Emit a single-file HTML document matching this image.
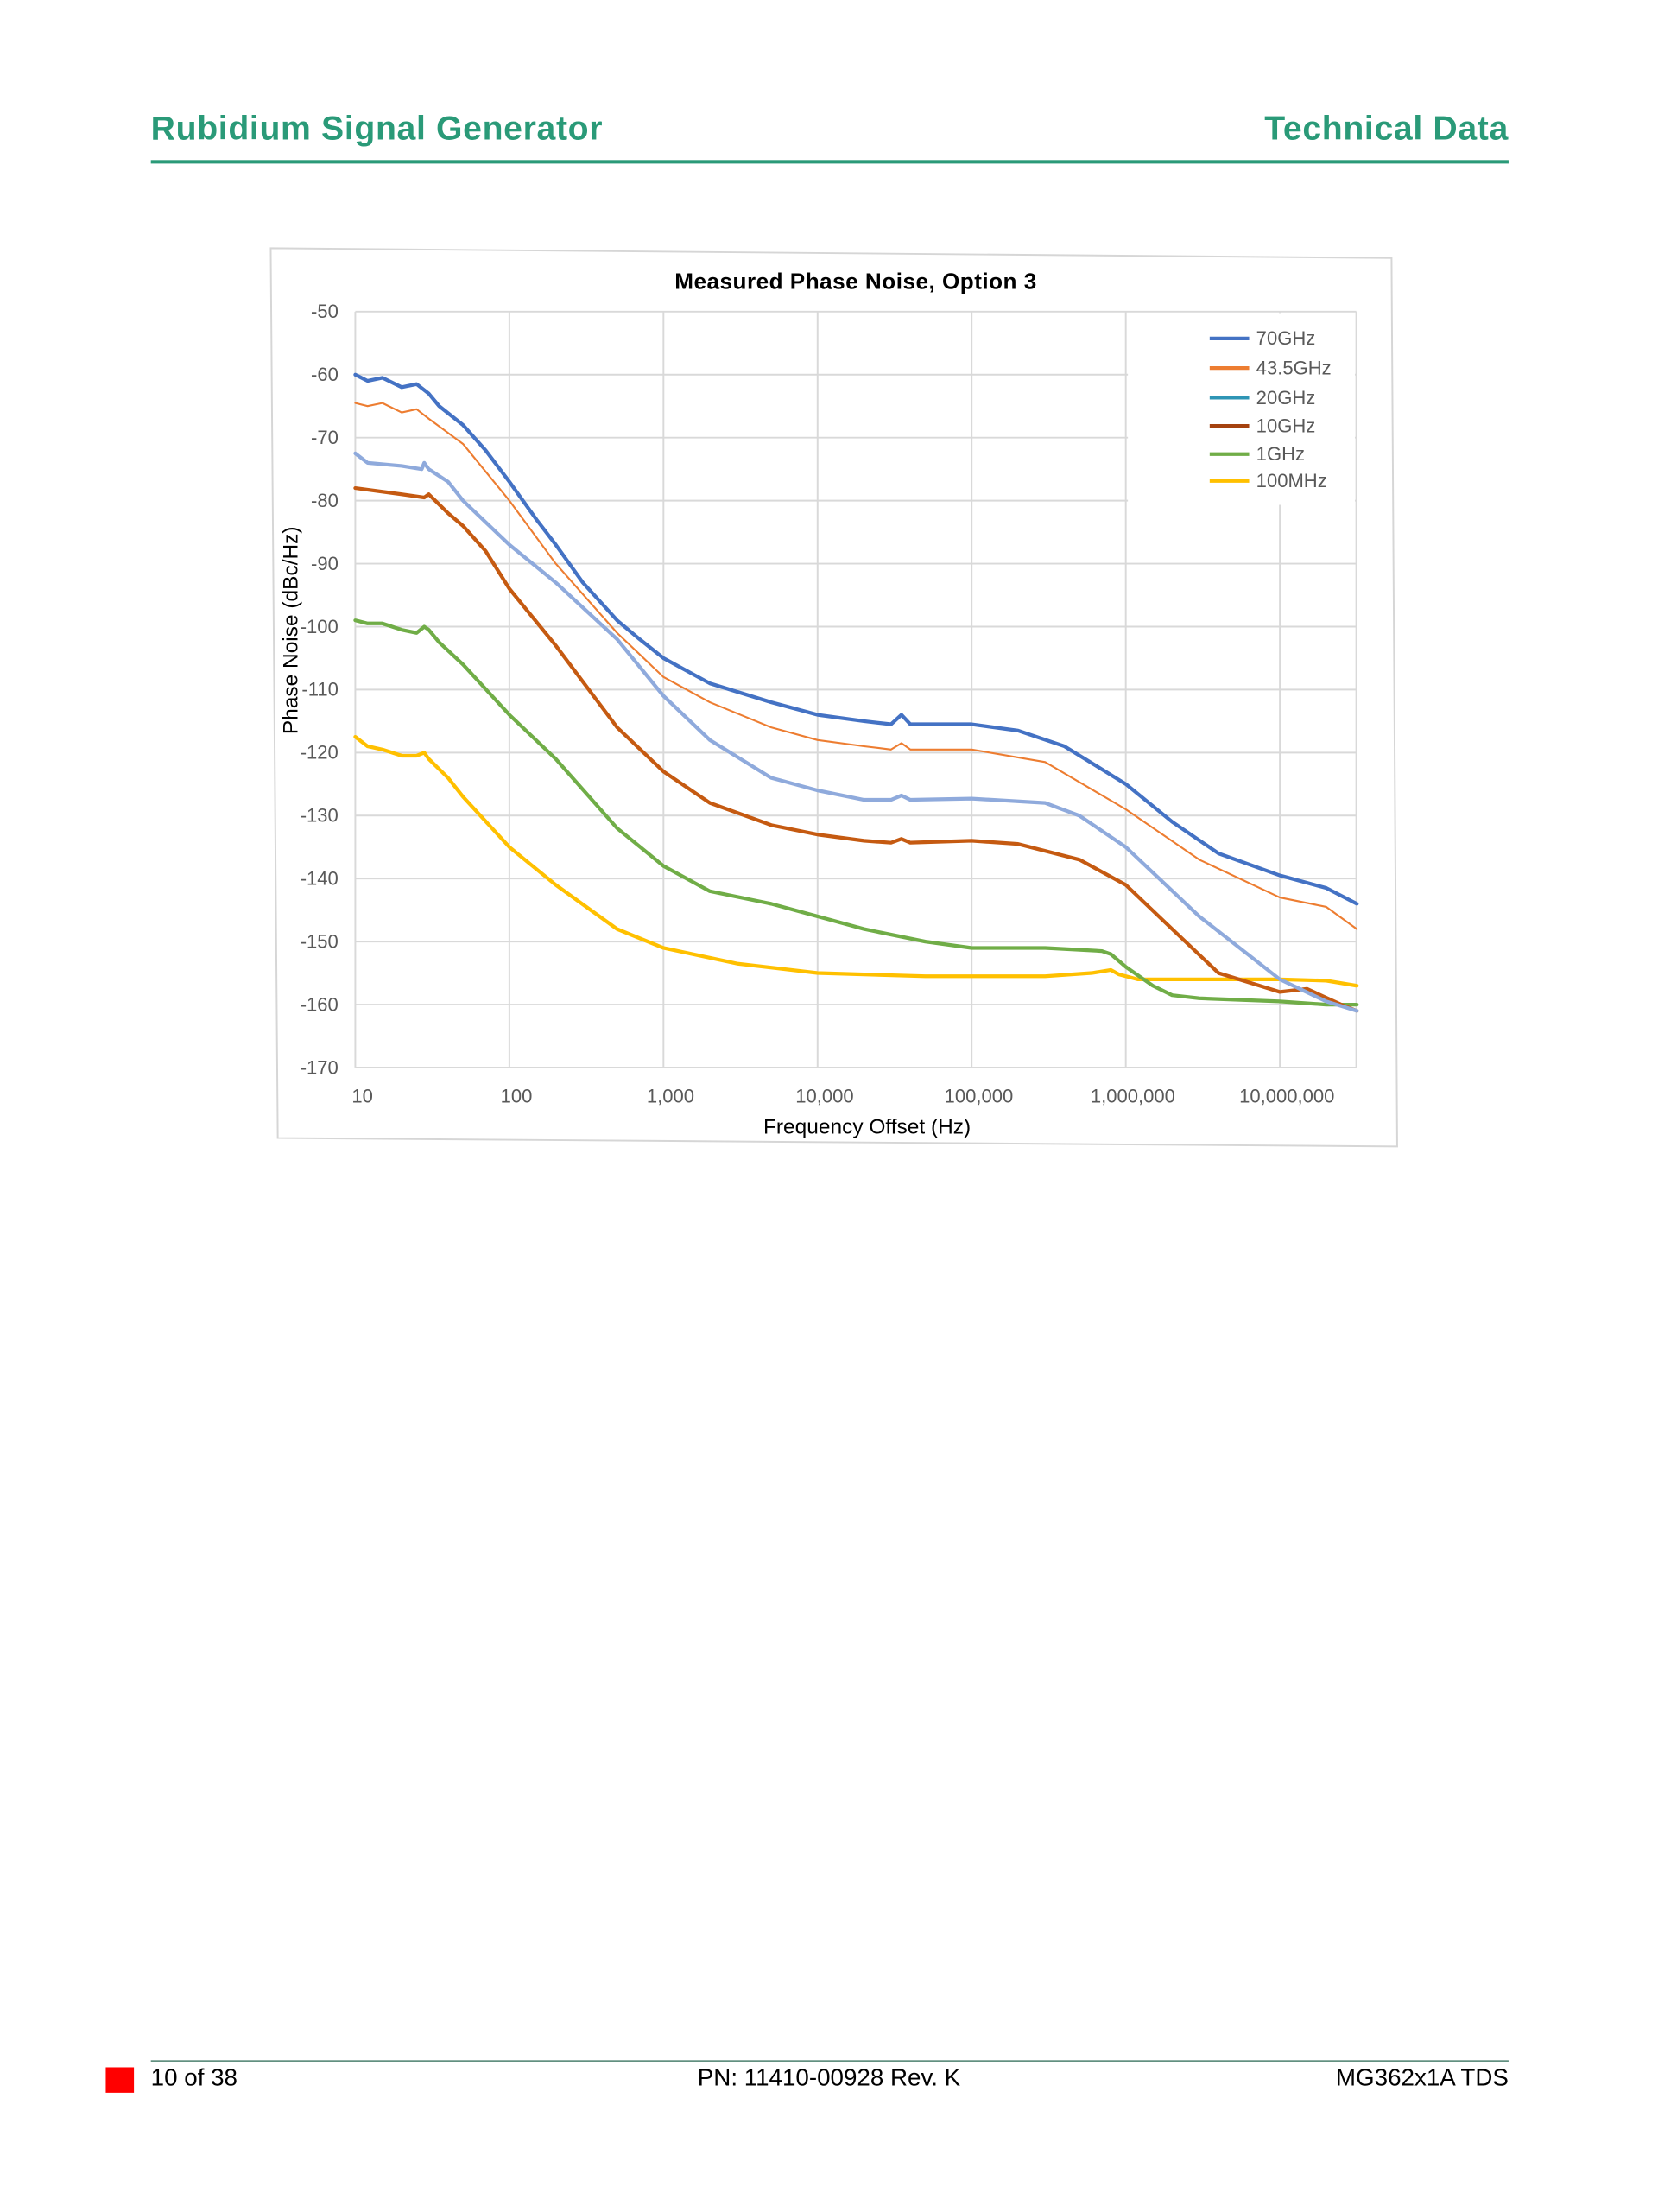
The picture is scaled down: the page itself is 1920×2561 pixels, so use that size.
<!DOCTYPE html>
<html><head><meta charset="utf-8"><style>
html,body{margin:0;padding:0;background:#fff;}
svg{display:block;}
text{font-family:"Liberation Sans",sans-serif;}
</style></head><body>
<svg id="s" width="1920" height="2561" viewBox="0 0 1176 1568.6" xmlns="http://www.w3.org/2000/svg">
<rect width="1176" height="1568.6" fill="#fff"/>
<text x="107" y="99" font-size="24" font-weight="bold" fill="#2a9a78" letter-spacing="0.4">Rubidium Signal Generator</text>
<text x="1070" y="99" font-size="24" font-weight="bold" fill="#2a9a78" text-anchor="end" letter-spacing="0.4">Technical Data</text>
<rect x="107" y="113.5" width="963" height="2.5" fill="#2a9a78"/>
<polygon points="192,176 987,183 991,813 197,807" fill="#fff" stroke="#d6d6d6" stroke-width="1.2"/>
<text x="607" y="205" font-size="16" font-weight="bold" fill="#000" text-anchor="middle" letter-spacing="0.3">Measured Phase Noise, Option 3</text>
<g id="grid" stroke="#d9d9d9" stroke-width="1.2"></g>
<rect x="800" y="222" width="161" height="136" fill="#fff"/>
<g id="labels" font-size="13.5" fill="#595959"></g>
<text x="615" y="804" font-size="15" fill="#000" text-anchor="middle">Frequency Offset (Hz)</text>
<text transform="translate(211,447) rotate(-90)" font-size="15" fill="#000" text-anchor="middle">Phase Noise (dBc/Hz)</text>
<g id="series" fill="none" stroke-linejoin="round" stroke-linecap="round"></g>
<g id="legend" font-size="13.5" fill="#595959"></g>
<rect x="107" y="1461" width="963" height="1" fill="#5a8a7a"/>
<rect x="75" y="1466" width="20" height="18" fill="#f00"/>
<text x="107" y="1479" font-size="17" fill="#000">10 of 38</text>
<text x="588" y="1479" font-size="17" fill="#000" text-anchor="middle">PN: 11410-00928 Rev. K</text>
<text x="1070" y="1479" font-size="17" fill="#000" text-anchor="end">MG362x1A TDS</text>
</svg>
<script>
var NS="http://www.w3.org/2000/svg";
function X(f){return 252+109.3*Math.log10(f/10);}
function Y(d){return 221+(-50-d)*4.467;}
function el(t,a,p,txt){var e=document.createElementNS(NS,t);for(var k in a)e.setAttribute(k,a[k]);if(txt)e.textContent=txt;document.getElementById(p).appendChild(e);return e;}
for(var d=-50;d>=-170;d-=10){el("line",{x1:252,x2:962,y1:Y(d),y2:Y(d)},"grid");el("text",{x:240,y:Y(d)+4.5,"text-anchor":"end"},"labels",String(d));}
var xl=["10","100","1,000","10,000","100,000","1,000,000","10,000,000"];
for(var i=0;i<7;i++){var x=252+109.3*i;el("line",{x1:x,x2:x,y1:221,y2:757},"grid");el("text",{x:i==0?257:x+5,y:782,"text-anchor":"middle"},"labels",xl[i]);}
el("line",{x1:962,x2:962,y1:221,y2:757},"grid");
var S=[
["#4472c4",2.6,[[10,-60],[12,-61],[15,-60.5],[20,-62],[25,-61.5],[30,-63],[35,-65],[50,-68],[70,-72],[100,-77],[150,-83],[200,-87],[300,-93],[500,-99],[700,-102],[1000,-105],[2000,-109],[5000,-112],[1e4,-114],[2e4,-115],[3e4,-115.5],[3.5e4,-114],[4e4,-115.5],[1e5,-115.5],[2e5,-116.5],[4e5,-119],[1e6,-125],[2e6,-131],[4e6,-136],[1e7,-139.5],[2e7,-141.5],[3.16e7,-144]]],
["#ed7d31",1.3,[[10,-64.5],[12,-65],[15,-64.5],[20,-66],[25,-65.5],[30,-67],[50,-71],[100,-80],[200,-90],[500,-101],[1000,-108],[2000,-112],[5000,-116],[1e4,-118],[2e4,-119],[3e4,-119.5],[3.5e4,-118.5],[4e4,-119.5],[1e5,-119.5],[3e5,-121.5],[1e6,-129],[3e6,-137],[1e7,-143],[2e7,-144.5],[3.16e7,-148]]],
["#8faadc",2.6,[[10,-72.5],[12,-74],[20,-74.5],[27,-75],[28,-74],[30,-75],[40,-77],[50,-80],[100,-87],[200,-93],[500,-102],[1000,-111],[2000,-118],[5000,-124],[1e4,-126],[2e4,-127.5],[3e4,-127.5],[3.5e4,-126.8],[4e4,-127.5],[1e5,-127.3],[3e5,-128],[5e5,-130],[1e6,-135],[3e6,-146],[1e7,-156],[2e7,-159.5],[3.16e7,-161]]],
["#c55a11",2.6,[[10,-78],[20,-79],[28,-79.5],[30,-79],[40,-82],[50,-84],[70,-88],[100,-94],[200,-103],[500,-116],[1000,-123],[2000,-128],[5000,-131.5],[1e4,-133],[2e4,-134],[3e4,-134.3],[3.5e4,-133.7],[4e4,-134.3],[1e5,-134],[2e5,-134.5],[5e5,-137],[1e6,-141],[2e6,-148],[4e6,-155],[1e7,-158],[1.5e7,-157.5],[2.5e7,-160],[3.16e7,-161]]],
["#70ad47",2.6,[[10,-99],[12,-99.5],[15,-99.5],[20,-100.5],[25,-101],[28,-100],[30,-100.5],[35,-102.5],[50,-106],[100,-114],[200,-121],[500,-132],[1000,-138],[2000,-142],[5000,-144],[1e4,-146],[2e4,-148],[5e4,-150],[1e5,-151],[3e5,-151],[7e5,-151.5],[8e5,-152],[1e6,-154],[1.5e6,-157],[2e6,-158.5],[3e6,-159],[1e7,-159.5],[2e7,-160],[3.16e7,-160]]],
["#ffc000",2.6,[[10,-117.5],[12,-119],[15,-119.5],[20,-120.5],[25,-120.5],[28,-120],[30,-121],[40,-124],[50,-127],[100,-135],[200,-141],[500,-148],[1000,-151],[3000,-153.5],[1e4,-155],[5e4,-155.5],[3e5,-155.5],[6e5,-155],[8e5,-154.5],[9e5,-155.2],[1.2e6,-156],[1e7,-156],[2e7,-156.2],[3.16e7,-157]]]];
[5,4,3,2,1,0].forEach(function(i){var s=S[i];var d=s[2].map(function(p,j){return (j?"L":"M")+X(p[0]).toFixed(1)+","+Y(p[1]).toFixed(1);}).join("");el("path",{d:d,stroke:s[0],"stroke-width":s[1]},"series");});
var L=[["70GHz","#4472c4",240],["43.5GHz","#ed7d31",261],["20GHz","#2e95b5",282],["10GHz","#a5420f",302],["1GHz","#70ad47",322],["100MHz","#ffc000",341]];
L.forEach(function(l){el("line",{x1:858,x2:886,y1:l[2],y2:l[2],stroke:l[1],"stroke-width":2.6},"legend");el("text",{x:891,y:l[2]+4.5},"legend",l[0]);});
</script>
</body></html>
